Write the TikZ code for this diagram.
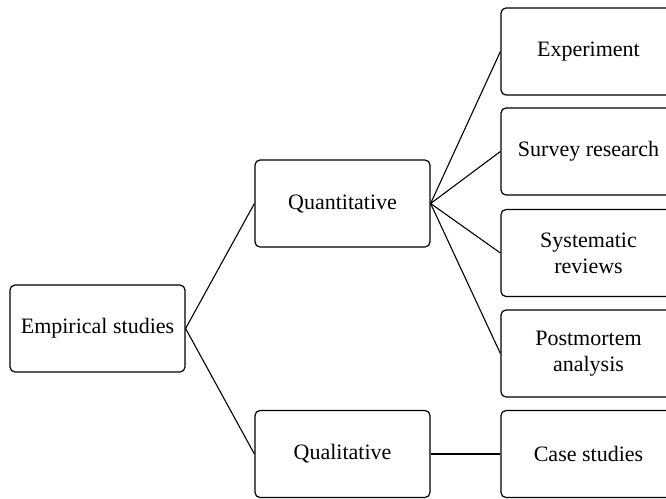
\documentclass[tikz,border=0pt]{standalone}
\usepackage{fontspec}
\setmainfont{Liberation Serif}
\begin{document}
\begin{tikzpicture}[x=1pt,y=-1pt,
  box/.style={draw, line width=1.2pt, rounded corners=5pt,
    minimum width=175pt, minimum height=87pt, inner sep=0pt,
    align=center, font=\fontsize{22}{26}\selectfont},
  link/.style={line width=1.1pt}]
\clip (0,0) rectangle (666,498);
% root
\node[box] (emp)  at (97.5,328.5) {Empirical studies};
% second level
\node[box] (quan) at (342.5,203.5) {Quantitative};
\node[box] (qual) at (342.5,454) {Qualitative};
% leaves
\node[box] (exp)  at (588.5,51.5)  {Experiment};
\node[box] (surv) at (588.5,151.5) {Survey research};
\node[box] (sysr) at (588.5,253)   {Systematic\\reviews};
\node[box] (post) at (588.5,353.5) {Postmortem\\analysis};
\node[box] (case) at (588.5,454)   {Case studies};
% connectors
\draw[link] (emp.east) -- (quan.west);
\draw[link] (emp.east) -- (qual.west);
\draw[link] (quan.east) -- (exp.west);
\draw[link] (quan.east) -- (surv.west);
\draw[link] (quan.east) -- (sysr.west);
\draw[link] (quan.east) -- (post.west);
\draw[link] (qual.east) -- (case.west);
\end{tikzpicture}
\end{document}
